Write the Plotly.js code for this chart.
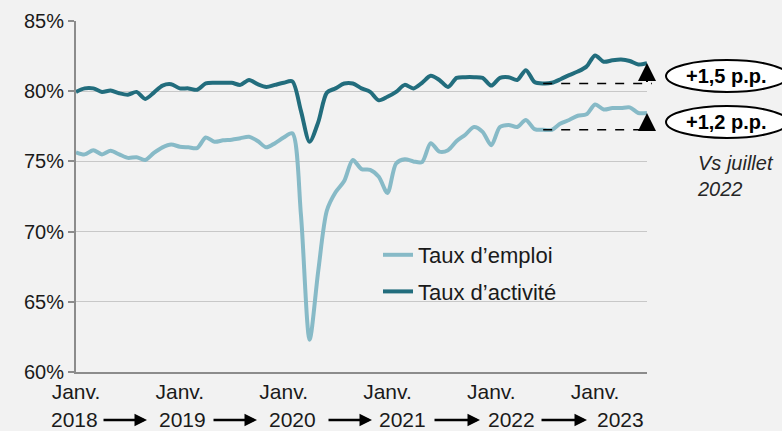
<!DOCTYPE html>
<html>
<head>
<meta charset="utf-8">
<script src="https://cdn.plot.ly/plotly-3.0.1.min.js"></script>
<style>
html,body{margin:0;padding:0;background:#f2f2f2;}
#chart{width:782px;height:431px;}
</style>
</head>
<body>
<div id="chart"></div>
<script>
// Monthly series, Jan 2018 .. Jul 2023
const startYear = 2018;
const emploi = [75.65,75.5,75.8,75.5,75.75,75.5,75.25,75.3,75.1,75.6,76.0,76.2,
  76.05,76.0,75.95,76.7,76.4,76.5,76.55,76.65,76.75,76.45,76.0,76.3,
  76.7,77.0,71.2,62.3,67.2,71.5,72.8,73.6,75.1,74.45,74.4,73.9,
  72.75,74.85,75.15,75.0,74.95,76.3,75.7,75.8,76.45,76.9,77.45,77.1,
  76.15,77.45,77.6,77.45,77.95,77.3,77.25,77.25,77.7,77.95,78.25,78.35,
  79.05,78.7,78.8,78.8,78.85,78.45,78.45];
const activite = [79.95,80.2,80.2,79.95,80.05,79.85,79.75,79.95,79.45,79.9,80.4,80.5,
  80.2,80.2,80.1,80.55,80.6,80.6,80.6,80.45,80.8,80.5,80.3,80.45,
  80.6,80.7,78.6,76.4,77.8,79.9,80.2,80.55,80.55,80.2,79.95,79.35,
  79.6,79.95,80.45,80.2,80.6,81.1,80.8,80.3,80.95,81.0,81.0,80.95,
  80.4,80.95,81.0,80.8,81.5,80.65,80.55,80.6,80.85,81.15,81.4,81.75,
  82.55,82.1,82.2,82.25,82.15,81.9,82.0];
const seriesNames = ['Taux d\u2019emploi', 'Taux d\u2019activit\u00e9'];
const years = [2018,2019,2020,2021,2022,2023];
const tickLabel = 'Janv.';
const yTicks = [60,65,70,75,80,85];
const refMonthIndex = 54; // juillet 2022
const gainLabels = ['+1,5 p.p.', '+1,2 p.p.'];
const noteText = 'Vs juillet<br>2022';

const months = emploi.map((_, i) => i);
const lastIdx = months.length - 1;

// geometry helpers (pixels -> paper)
const W = 782, H = 431, ML = 76, MR = 135, MT = 21, MB = 59;
const PW = W - ML - MR, PH = H - MT - MB;
const px = p => (p - ML) / PW;
const py = p => (H - MB - p) / PH;

const FONT = 'Liberation Sans, Arial, sans-serif';
const DARK = '#226d7d', LIGHT = '#87bac7';

const traces = [
  {x: months, y: emploi, name: seriesNames[0], type: 'scatter', mode: 'lines',
   line: {color: LIGHT, width: 4, shape: 'spline', smoothing: 0.8}, legendgroup: 'a'},
  {x: months, y: activite, name: seriesNames[1], type: 'scatter', mode: 'lines',
   line: {color: DARK, width: 4, shape: 'spline', smoothing: 0.8}, legendgroup: 'b'}
];

const shapes = [];
const annotations = [];

// dashed reference lines from July 2022
[activite, emploi].forEach(s => {
  shapes.push({type: 'line', xref: 'paper', yref: 'y',
    x0: refMonthIndex / lastIdx, x1: px(652), y0: s[refMonthIndex], y1: s[refMonthIndex],
    line: {color: '#000', width: 1.5, dash: 'dash'}});
  annotations.push({xref: 'x', yref: 'y', axref: 'x', ayref: 'y',
    x: lastIdx, y: s[lastIdx], ax: lastIdx, ay: s[refMonthIndex], text: '',
    showarrow: true, arrowhead: 2, arrowsize: 1.8, arrowwidth: 2, arrowcolor: '#000', standoff: 0});
});

// ellipses with gains
const ellY = [76, 122];
ellY.forEach((cy, k) => {
  shapes.push({type: 'circle', xref: 'paper', yref: 'paper',
    x0: px(666), x1: px(788), y0: py(cy + 16), y1: py(cy - 16),
    fillcolor: '#ffffff', line: {color: '#000', width: 2}});
  annotations.push({xref: 'paper', yref: 'paper', x: px(727), y: py(cy),
    text: '<b>' + gainLabels[k] + '</b>', showarrow: false,
    font: {family: FONT, size: 20, color: '#000'}, xanchor: 'center', yanchor: 'middle'});
});
annotations.push({xref: 'paper', yref: 'paper', x: px(695), y: py(150),
  text: '<i>' + noteText + '</i>', showarrow: false, align: 'left',
  font: {family: FONT, size: 20, color: '#262626'}, xanchor: 'left', yanchor: 'top'});

// year labels and arrows below x axis
const yearCenters = [74, 182, 292, 402, 511, 620];
const arrowSpans = [[102,147],[212,257],[327,372],[433,480],[540,587]];
years.forEach((yr, k) => {
  annotations.push({xref: 'paper', yref: 'paper', x: px(yearCenters[k]), y: py(419),
    text: String(yr), showarrow: false, xanchor: 'center', yanchor: 'middle',
    font: {family: FONT, size: 21, color: '#1a1a1a'}});
});
arrowSpans.forEach(([a, b]) => {
  annotations.push({xref: 'paper', yref: 'paper', x: px(b), y: py(420),
    ax: -(b - a), ay: 0, text: '', showarrow: true, arrowhead: 2,
    arrowsize: 1.0, arrowwidth: 2.5, arrowcolor: '#000', standoff: 0});
});

const layout = {
  width: W, height: H,
  margin: {l: ML, r: MR, t: MT, b: MB, pad: 0},
  paper_bgcolor: '#f2f2f2', plot_bgcolor: '#f2f2f2',
  font: {family: FONT, size: 20, color: '#1a1a1a'},
  showlegend: true,
  legend: {x: px(378), y: py(234), xanchor: 'left', yanchor: 'top',
    bgcolor: 'rgba(0,0,0,0)', font: {family: FONT, size: 22, color: '#1a1a1a'},
    traceorder: 'grouped', tracegroupgap: 5},
  xaxis: {range: [0, lastIdx], tickvals: years.map((_, k) => k * 12),
    ticktext: years.map(() => tickLabel), ticks: '', showgrid: false, zeroline: false,
    showline: true, linecolor: '#8c8c8c', linewidth: 2,
    tickfont: {family: FONT, size: 21, color: '#1a1a1a'}},
  yaxis: {range: [60, 85], tickvals: yTicks, ticktext: yTicks.map(v => v + '%'),
    ticks: 'outside', ticklen: 6, tickwidth: 2, tickcolor: '#8c8c8c',
    showgrid: true, gridcolor: '#c8c8c8', gridwidth: 1, zeroline: false,
    showline: true, linecolor: '#8c8c8c', linewidth: 2,
    tickfont: {family: FONT, size: 20, color: '#1a1a1a'}},
  shapes: shapes,
  annotations: annotations
};

Plotly.newPlot('chart', traces, layout, {displayModeBar: false, staticPlot: true});
</script>
</body>
</html>
